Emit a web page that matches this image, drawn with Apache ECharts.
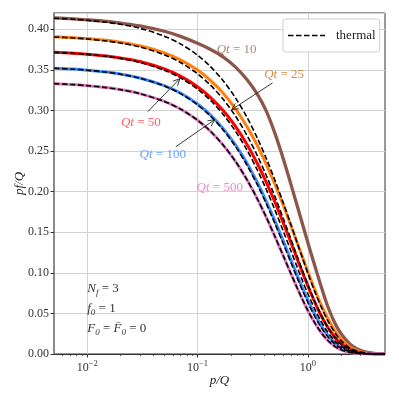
<!DOCTYPE html>
<html><head><meta charset="utf-8">
<script src="https://cdn.jsdelivr.net/npm/echarts@6/dist/echarts.min.js"></script>
<style>html,body{margin:0;padding:0;background:#fff}#c{width:399px;height:399px}</style>
</head><body><div id="c"></div>
<script>
// ---- data ----
const pQ = [0.005,0.0075,0.01,0.015,0.02,0.03,0.05,0.07,0.1,0.13,0.17,0.22,0.28,0.35,0.42,0.5,0.6,0.7,0.8,0.9,1.0,1.15,1.3,1.5,1.75,2.0,2.4,2.8,3.3,4.0,5.0];

const qt10  = [0.4140,0.4128,0.4116,0.4096,0.4075,0.4042,0.3975,0.3912,0.3827,0.3753,0.3660,0.3537,0.3380,0.3196,0.2991,0.2726,0.2400,0.2095,0.1825,0.1585,0.1370,0.1095,0.0860,0.0600,0.0385,0.0250,0.0125,0.0062,0.0025,0.0007,0.0001];
const qt25  = [0.3908,0.3896,0.3885,0.3863,0.3841,0.3796,0.3709,0.3623,0.3497,0.3373,0.3214,0.3021,0.2803,0.2562,0.2337,0.2099,0.1828,0.1585,0.1370,0.1181,0.1014,0.0800,0.0626,0.0449,0.0290,0.0185,0.0088,0.0041,0.0015,0.0004,0.00005];
const qt50  = [0.3717,0.3705,0.3693,0.3670,0.3647,0.3602,0.3511,0.3422,0.3292,0.3165,0.3001,0.2806,0.2583,0.2340,0.2115,0.1878,0.1611,0.1377,0.1171,0.0993,0.0838,0.0644,0.0490,0.0338,0.0209,0.0127,0.0056,0.0024,0.0008,0.00017,0.00002];
const qt100 = [0.3521,0.3509,0.3496,0.3472,0.3448,0.3400,0.3306,0.3214,0.3079,0.2948,0.2779,0.2578,0.2352,0.2106,0.1881,0.1646,0.1388,0.1162,0.0968,0.0804,0.0664,0.0494,0.0364,0.0238,0.0138,0.0079,0.0031,0.0012,0.0004,0.00006,0.00001];
const qt500 = [0.3330,0.3318,0.3305,0.3281,0.3256,0.3207,0.3111,0.3017,0.2880,0.2747,0.2576,0.2375,0.2148,0.1905,0.1683,0.1454,0.1205,0.0993,0.0813,0.0662,0.0535,0.0387,0.0277,0.0173,0.0095,0.0052,0.0019,0.0007,0.0002,0.00003,0.0];

const th10  = [0.4135,0.4123,0.4110,0.4086,0.4061,0.4012,0.3915,0.3820,0.3680,0.3544,0.3368,0.3157,0.2917,0.2653,0.2408,0.2149,0.1858,0.1599,0.1370,0.1170,0.0994,0.0775,0.0600,0.0421,0.0265,0.0165,0.0075,0.0033,0.0012,0.0003,0.00003];
const th25  = [0.3905,0.3893,0.3880,0.3855,0.3831,0.3782,0.3685,0.3590,0.3451,0.3316,0.3141,0.2933,0.2695,0.2437,0.2198,0.1947,0.1666,0.1418,0.1203,0.1016,0.0854,0.0653,0.0495,0.0338,0.0206,0.0124,0.0054,0.0023,0.0007,0.00015,0.00002];
const th50  = [0.3715,0.3703,0.3690,0.3666,0.3641,0.3592,0.3496,0.3401,0.3262,0.3128,0.2954,0.2747,0.2514,0.2260,0.2026,0.1782,0.1510,0.1274,0.1070,0.0892,0.0742,0.0559,0.0416,0.0277,0.0164,0.0096,0.0039,0.0016,0.0005,0.00009,0.00001];
const th100 = [0.3520,0.3508,0.3495,0.3471,0.3446,0.3397,0.3301,0.3207,0.3069,0.2935,0.2763,0.2558,0.2328,0.2079,0.1851,0.1614,0.1354,0.1129,0.0937,0.0773,0.0634,0.0467,0.0342,0.0221,0.0127,0.0071,0.0028,0.0010,0.0003,0.00005,0.0];
const th500 = [0.3330,0.3318,0.3305,0.3281,0.3256,0.3207,0.3111,0.3017,0.2880,0.2747,0.2576,0.2375,0.2148,0.1905,0.1683,0.1454,0.1205,0.0993,0.0813,0.0662,0.0535,0.0387,0.0277,0.0173,0.0095,0.0052,0.0019,0.0007,0.0002,0.00003,0.0];

const xMajor = [0.01, 0.1, 1];
const xMinor = [0.006,0.007,0.008,0.009,0.02,0.03,0.04,0.05,0.06,0.07,0.08,0.09,0.2,0.3,0.4,0.5,0.6,0.7,0.8,0.9,2,3,4];
const xExp = {0.01:'−2', 0.1:'−1', 1:'0'};

// ---- styling ----
const FONT = '"Liberation Serif","DejaVu Serif",serif';
const colors = {qt10:'#8c564b', qt25:'#ff7f0e', qt50:'#ff0000', qt100:'#3a8bff', qt500:'#e377c2'};
const dashIcon = 'path://M0,0h5.5v1.6h-5.5z M8,0h5.5v1.6h-5.5z M16,0h5.5v1.6h-5.5z M24,0h5.5v1.6h-5.5z M32,0h5v1.6h-5z';

function pairs(ys){ return pQ.map((x,i)=>[x, ys[i]]); }
function solid(name, ys, color, w){
  return {name, type:'line', data:pairs(ys), showSymbol:false, symbol:'none', smooth:0.3,
          lineStyle:{color, width:w}, z:2, silent:true};
}
function dashed(ys){
  return {name:'thermal', type:'line', data:pairs(ys), showSymbol:false, symbol:'none', smooth:0.3,
          itemStyle:{color:'#000'},
          lineStyle:{color:'#000', width:1.6, type:[5.5,2.5]}, z:3, silent:true};
}

const option = {
  animation:false,
  backgroundColor:'#fff',
  grid:{left:54, right:14, top:13, bottom:45, show:true, borderColor:'#333', borderWidth:1},
  legend:{data:[{name:'thermal', icon:dashIcon}], left:283, top:19, orient:'vertical',
          backgroundColor:'#fff', borderColor:'#cfcfcf', borderWidth:1, borderRadius:3,
          padding:[10,4,10,5], itemWidth:37, itemHeight:1.6,
          itemStyle:{color:'#000'},
          textStyle:{fontFamily:FONT, fontSize:13, color:'#222', padding:[0,0,0,6], lineHeight:13}},
  xAxis:[{
    type:'log', min:0.005, max:5, logBase:10,
    name:'p/Q', nameLocation:'middle', nameGap:20, nameMoveOverlap:false,
    nameTextStyle:{fontFamily:FONT, fontSize:13, fontStyle:'italic', color:'#222'},
    axisLine:{show:true, lineStyle:{color:'#333', width:1.2}},
    axisTick:{show:true, length:3.5, customValues:xMajor, lineStyle:{color:'#333'}},
    axisLabel:{customValues:xMajor, margin:5, fontFamily:FONT, fontSize:12, color:'#333',
               formatter:(v)=>'10{sup|'+(xExp[v]||'')+'}',
               rich:{sup:{fontFamily:FONT, fontSize:8.5, color:'#333', padding:[0,0,8,0]}}},
    splitLine:{show:true, lineStyle:{color:'#d3d3d3', width:1}},
    minorTick:{show:false}, minorSplitLine:{show:false}
  },{
    type:'log', min:0.005, max:5, logBase:10, position:'bottom',
    axisLine:{show:false},
    axisTick:{show:true, length:2, customValues:xMinor, lineStyle:{color:'#333', width:0.8}},
    axisLabel:{show:false}, splitLine:{show:false}
  }],
  yAxis:{
    type:'value', min:0, max:0.42, interval:0.05,
    name:'pf/Q', nameLocation:'middle', nameGap:28, nameRotate:90, nameMoveOverlap:false,
    nameTextStyle:{fontFamily:FONT, fontSize:13, fontStyle:'italic', color:'#222'},
    axisLine:{show:true, lineStyle:{color:'#8a8a8a', width:2}},
    axisTick:{show:true, length:3.5, lineStyle:{color:'#333'}},
    axisLabel:{fontFamily:FONT, fontSize:12, color:'#333', margin:5, showMaxLabel:false,
               formatter:(v)=>v.toFixed(2)},
    splitLine:{show:true, lineStyle:{color:'#d3d3d3', width:1}}
  },
  series:[
    solid('Qt=10', qt10, colors.qt10, 3.3),
    solid('Qt=25', qt25, colors.qt25, 3),
    solid('Qt=50', qt50, colors.qt50, 3),
    solid('Qt=100', qt100, colors.qt100, 3),
    solid('Qt=500', qt500, colors.qt500, 3),
    dashed(th10), dashed(th25), dashed(th50), dashed(th100), dashed(th500)
  ]
};

const chart = echarts.init(document.getElementById('c'), null, {renderer:'canvas'});
chart.setOption(option);

// ---- annotations (placed in data coordinates) ----
const P = (x,y)=>chart.convertToPixel({xAxisIndex:0, yAxisIndex:0}, [x,y]);
const labels = [
  {t:'10',  c:'rgba(140,86,75,0.72)',  at:[0.226,0.375]},
  {t:'25',  c:'rgba(205,118,35,0.85)', at:[0.609,0.344]},
  {t:'50',  c:'rgba(255,40,40,0.75)',  at:[0.0306,0.285]},
  {t:'100', c:'rgba(60,140,255,0.8)',  at:[0.0484,0.2455]},
  {t:'500', c:'rgba(227,119,194,0.85)',at:[0.159,0.2047]}
];
const arrows = [
  {from:[0.479,0.334], to:[0.204,0.301]},
  {from:[0.0354,0.2985], to:[0.069,0.339]},
  {from:[0.0635,0.2553], to:[0.143,0.2886]}
];
const notes = [
  {rt:'{i|N}{sub|f}{n| = 3}', at:[0.01,0.080]},
  {rt:'{i|f}{sub|0}{n| = 1}', at:[0.01,0.0555]},
  {rt:'{i|F}{sub|0}{n| = }{i|F\u0304}{sub|0}{n| = 0}', at:[0.01,0.031]}
];
const g = [];
labels.forEach(l=>{
  const p = P(l.at[0], l.at[1]);
  g.push({type:'text', x:p[0], y:p[1], z:20, silent:true,
    style:{text:'{i|Qt}{n| = '+l.t+'}', align:'center', verticalAlign:'middle',
      rich:{i:{fontFamily:FONT, fontSize:13, fontStyle:'italic', fill:l.c},
            n:{fontFamily:FONT, fontSize:13, fill:l.c}}}});
});
arrows.forEach(a=>{
  const s = P(a.from[0], a.from[1]), e = P(a.to[0], a.to[1]);
  const dx = e[0]-s[0], dy = e[1]-s[1], L = Math.hypot(dx,dy), ux = dx/L, uy = dy/L;
  const hl = 6.5, hw = 3.2;
  g.push({type:'line', z:20, silent:true, shape:{x1:s[0], y1:s[1], x2:e[0], y2:e[1]},
          style:{stroke:'#222', lineWidth:0.9}});
  g.push({type:'polyline', z:20, silent:true,
          shape:{points:[[e[0]-hl*ux-hw*uy, e[1]-hl*uy+hw*ux],[e[0],e[1]],[e[0]-hl*ux+hw*uy, e[1]-hl*uy-hw*ux]]},
          style:{stroke:'#222', lineWidth:0.9, fill:null}});
});
notes.forEach(n=>{
  const p = P(n.at[0], n.at[1]);
  g.push({type:'text', x:p[0], y:p[1], z:20, silent:true,
    style:{text:n.rt, align:'left', verticalAlign:'middle',
      rich:{i:{fontFamily:FONT, fontSize:13, fontStyle:'italic', fill:'#333'},
            n:{fontFamily:FONT, fontSize:13, fill:'#333'},
            sub:{fontFamily:FONT, fontSize:9, fontStyle:'italic', fill:'#333', padding:[7,0,0,0]}}}});
});
chart.setOption({graphic:g});
</script>
</body></html>
